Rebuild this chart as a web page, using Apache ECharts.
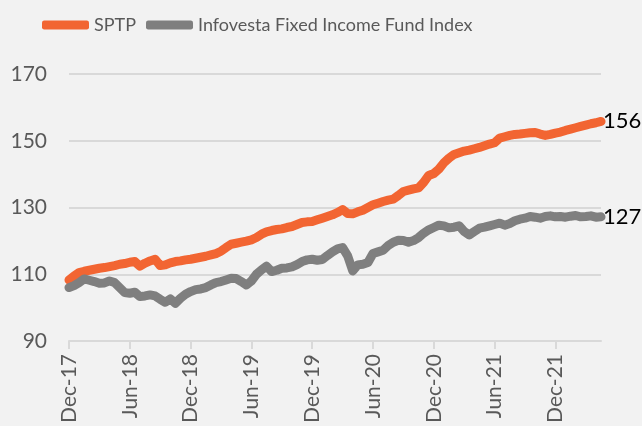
<!DOCTYPE html>
<html><head><meta charset="utf-8">
<script src="https://cdn.jsdelivr.net/npm/echarts@6/dist/echarts.min.js"></script>
<style>html,body{margin:0;padding:0;background:#F2F2F2;}#c{width:642px;height:426px;}</style>
</head><body><div id="c"></div>
<script>
// Tick labels (every 6 months)
const tickLabels = ['Dec-17','Jun-18','Dec-18','Jun-19','Dec-19','Jun-20','Dec-20','Jun-21','Dec-21'];
// Semi-monthly observation dates, Dec-2017 .. Apr-2022
const monthNames = ['Jan','Feb','Mar','Apr','May','Jun','Jul','Aug','Sep','Oct','Nov','Dec'];
const categories = [];
for (let i = 0; i < 106; i++) {
  const m = 11 + Math.floor(i / 2);
  const y = 2017 + Math.floor(m / 12);
  categories.push(monthNames[m % 12] + '-' + String(y).slice(2) + (i % 2 ? ' (15)' : ' (1)'));
}
const sptp = [
108.3,109.5,110.5,110.9,111.2,111.5,111.8,112.0,112.3,112.6,
113.0,113.2,113.6,113.8,112.4,113.3,114.0,114.5,112.6,112.8,
113.4,113.8,114.0,114.3,114.5,114.8,115.1,115.4,115.8,116.2,
116.9,118.0,119.0,119.3,119.6,119.9,120.3,121.0,122.0,122.7,
123.1,123.4,123.6,124.0,124.3,124.9,125.5,125.7,125.8,126.3,
126.8,127.3,127.8,128.5,129.4,128.2,128.1,128.7,129.2,130.0,
130.8,131.3,131.8,132.2,132.5,133.6,134.8,135.2,135.6,135.9,
137.5,139.6,140.2,141.5,143.4,144.8,145.9,146.4,146.9,147.2,
147.6,148.0,148.5,149.0,149.4,150.8,151.2,151.6,151.9,152.0,
152.2,152.4,152.5,152.0,151.6,151.9,152.3,152.6,153.1,153.5,
153.9,154.3,154.7,155.1,155.4,155.8
];
const infovesta = [
106.0,106.6,107.5,108.6,108.2,107.8,107.3,107.4,108.0,107.5,
106.0,104.5,104.3,104.6,103.3,103.5,103.8,103.5,102.5,101.6,
102.6,101.3,102.8,104.0,104.8,105.4,105.6,106.0,106.8,107.5,
107.8,108.3,108.8,108.7,107.8,106.8,108.0,110.0,111.3,112.4,
110.8,111.2,111.8,111.9,112.2,112.9,113.8,114.3,114.5,114.2,
114.4,115.6,116.7,117.6,118.0,115.5,111.0,112.8,113.0,113.5,
116.2,116.7,117.2,118.6,119.6,120.2,120.1,119.6,120.1,121.0,
122.3,123.3,124.0,124.7,124.5,123.9,124.1,124.5,122.8,121.8,
122.8,123.8,124.1,124.5,124.9,125.3,124.7,125.2,126.0,126.5,
126.8,127.3,127.1,126.8,127.3,127.5,127.2,127.3,127.1,127.4,
127.6,127.2,127.3,127.5,127.1,127.2
];
const seriesNames = ['SPTP','Infovesta Fixed Income Fund Index'];
const colors = ['#F26532','#7F7F7F'];
const FONT = 'Lato';
const chart = echarts.init(document.getElementById('c'));
chart.setOption({
  backgroundColor: '#F2F2F2',
  animation: false,
  textStyle: {fontFamily: FONT},
  legend: {
    left: 37, top: 11,
    icon: 'roundRect',
    itemWidth: 47, itemHeight: 9, itemGap: 10,
    textStyle: {fontFamily: FONT, fontSize: 18, color: '#595959'},
    data: seriesNames
  },
  grid: {left: 69, right: 41, top: 74, bottom: 85, containLabel: false},
  xAxis: {
    type: 'category', boundaryGap: false, data: categories,
    axisLine: {lineStyle: {color: '#D9D9D9', width: 2}},
    axisTick: {show: true, length: 8, interval: (i) => i % 12 === 0, lineStyle: {color: '#D9D9D9', width: 2}},
    axisLabel: {
      interval: (i) => i % 12 === 0, rotate: 90, margin: 13,
      fontFamily: FONT, fontSize: 21, color: '#595959',
      formatter: (v, i) => tickLabels[Math.round(i / 12)]
    },
    splitLine: {show: false}
  },
  yAxis: {
    type: 'value', min: 90, max: 170, interval: 20,
    axisLine: {show: false}, axisTick: {show: false},
    axisLabel: {fontFamily: FONT, fontSize: 21, color: '#595959', margin: 22},
    splitLine: {lineStyle: {color: '#D9D9D9', width: 2}}
  },
  series: [
    {name: seriesNames[0], type: 'line', data: sptp, showSymbol: false, symbol: 'none',
     lineStyle: {color: colors[0], width: 9, cap: 'round', join: 'round'}, itemStyle: {color: colors[0]},
     endLabel: {show: true, formatter: (p) => String(Math.round(p.value)), color: '#000', fontSize: 22, fontFamily: FONT, distance: 2}},
    {name: seriesNames[1], type: 'line', data: infovesta, showSymbol: false, symbol: 'none',
     lineStyle: {color: colors[1], width: 9, cap: 'round', join: 'round'}, itemStyle: {color: colors[1]},
     endLabel: {show: true, formatter: (p) => String(Math.round(p.value)), color: '#000', fontSize: 22, fontFamily: FONT, distance: 2}}
  ]
});
</script></body></html>
